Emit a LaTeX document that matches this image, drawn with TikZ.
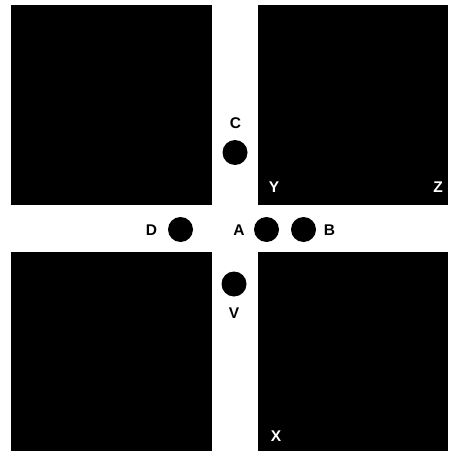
\documentclass[tikz,border=0pt]{standalone}
\usepackage{fontspec}
\setmainfont{Liberation Sans}
\begin{document}
\begin{tikzpicture}[x=1pt,y=-1pt,
  block/.style={fill=black,draw=none},
  dot/.style={circle,fill=black,minimum size=25pt,inner sep=0pt},
  lbl/.style={font=\bfseries\fontsize{15.5}{18}\selectfont,inner sep=0pt},
  wlbl/.style={lbl,text=white}]
\useasboundingbox (0,0) rectangle (448,452);
\fill[white] (0,0) rectangle (448,452);
\fill[block] (11,5) rectangle (211.5,205);
\fill[block] (257.5,5) rectangle (448,205);
\fill[block] (11,251.5) rectangle (211.5,451);
\fill[block] (257.5,251.5) rectangle (448,451);
\node[dot] (cdot) at (235,152.5) {};
\node[lbl] (c) at (235.5,123.5) {C};
\node[dot] (ddot) at (180.5,229.5) {};
\node[lbl] (d) at (151.5,230) {D};
\node[lbl] (a) at (239,230.5) {A};
\node[dot] (adot) at (266.5,229.5) {};
\node[dot] (bdot) at (303.5,229.5) {};
\node[lbl] (b) at (329.5,230.5) {B};
\node[dot] (vdot) at (234,284) {};
\node[lbl] (v) at (234,313.5) {V};
\node[wlbl] (y) at (274,187) {Y};
\node[wlbl] (z) at (438,187) {Z};
\node[wlbl] (x) at (276,436) {X};
\end{tikzpicture}
\end{document}
